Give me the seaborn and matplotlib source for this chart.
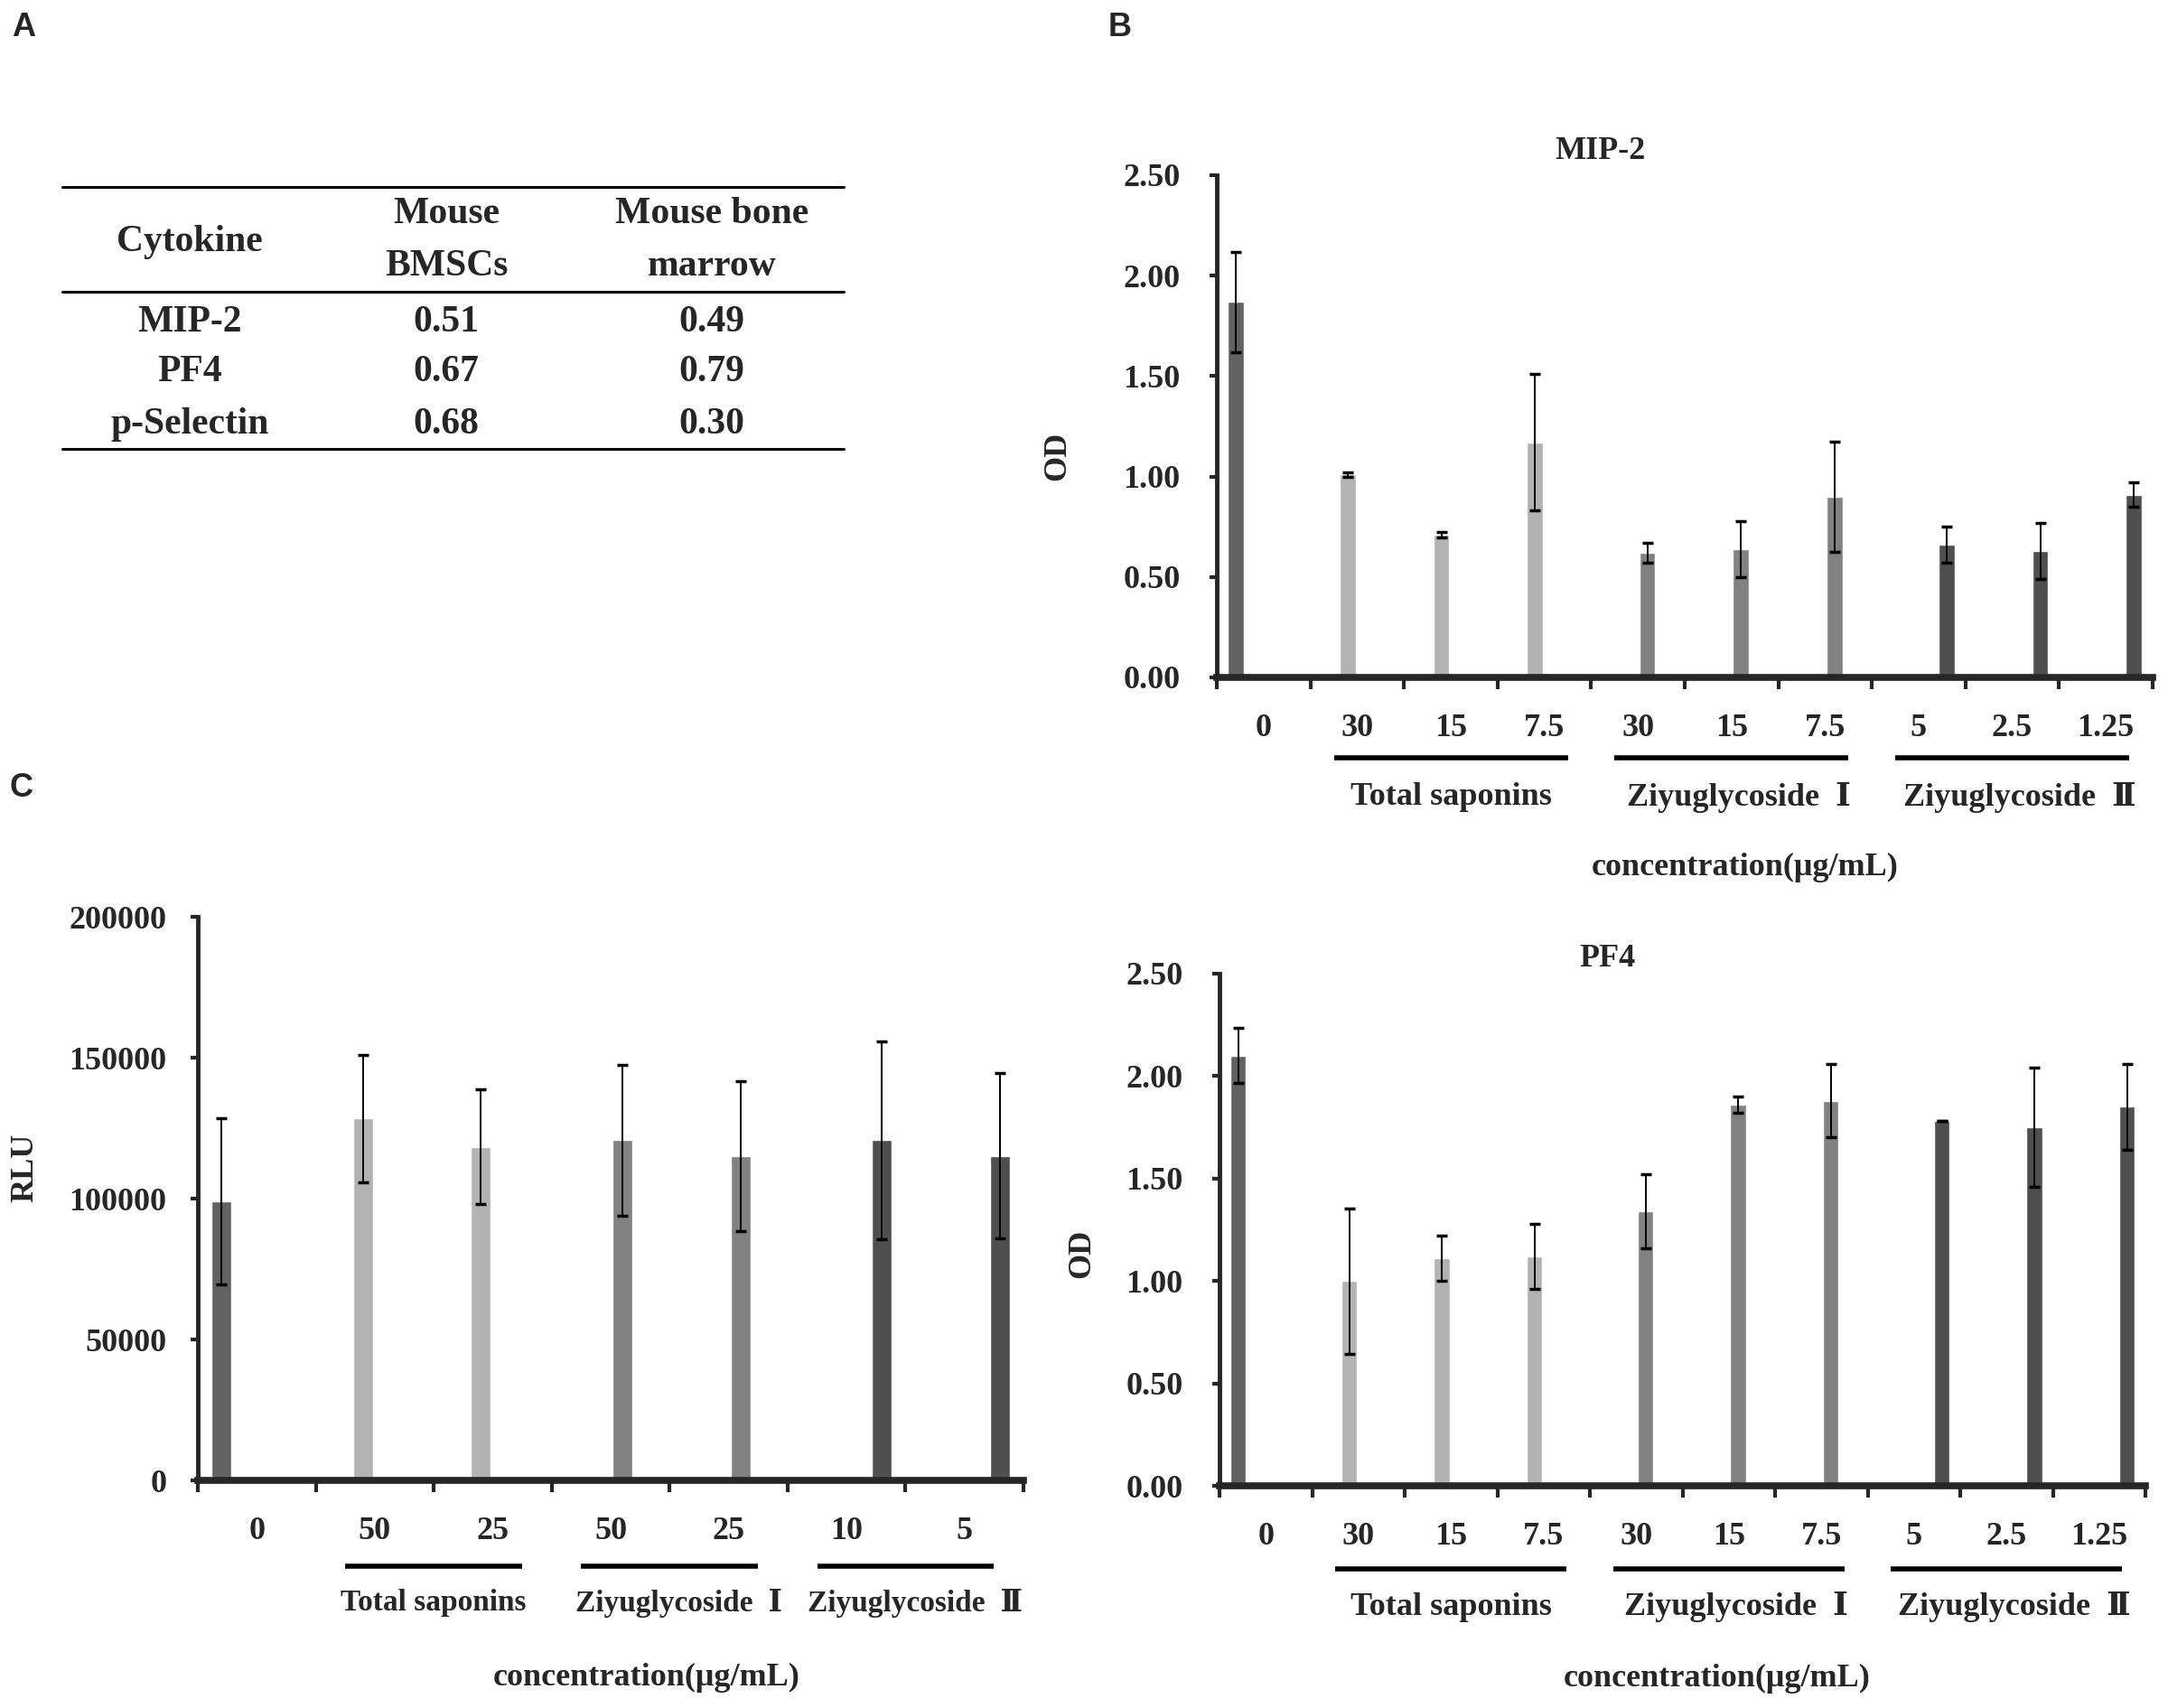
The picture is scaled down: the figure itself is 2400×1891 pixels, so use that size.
import numpy as np
import pandas as pd
import matplotlib
matplotlib.use('Agg')
import matplotlib.pyplot as plt
import matplotlib.transforms as mtransforms
from matplotlib.lines import Line2D
import seaborn as sns

# --- DATOS ---

# Tabla A
tabla_cytokine = ['MIP-2', 'PF4', 'p-Selectin']
tabla_bmsc = ['0.51', '0.67', '0.68']
tabla_marrow = ['0.49', '0.79', '0.30']

# Paneles B (OD)
od_labels = ['0', '30', '15', '7.5', '30', '15', '7.5', '5', '2.5', '1.25']
od_series = ['Control',
             'Total saponins', 'Total saponins', 'Total saponins',
             'Ziyuglycoside Ⅰ', 'Ziyuglycoside Ⅰ', 'Ziyuglycoside Ⅰ',
             'Ziyuglycoside Ⅱ', 'Ziyuglycoside Ⅱ', 'Ziyuglycoside Ⅱ']
mip2_mean = [1.87, 1.01, 0.71, 1.17, 0.62, 0.64, 0.90, 0.66, 0.63, 0.91]
mip2_sd = [0.25, 0.01, 0.015, 0.34, 0.05, 0.14, 0.275, 0.09, 0.14, 0.06]
pf4_mean = [2.10, 1.00, 1.11, 1.12, 1.34, 1.86, 1.88, 1.78, 1.75, 1.85]
pf4_sd = [0.135, 0.355, 0.11, 0.16, 0.18, 0.04, 0.18, 0.0, 0.29, 0.21]
od_yticks = [0.0, 0.5, 1.0, 1.5, 2.0, 2.5]

# Panel C (RLU)
rlu_labels = ['0', '50', '25', '50', '25', '10', '5']
rlu_series = ['Control', 'Total saponins', 'Total saponins',
              'Ziyuglycoside Ⅰ', 'Ziyuglycoside Ⅰ',
              'Ziyuglycoside Ⅱ', 'Ziyuglycoside Ⅱ']
rlu_mean = [99000, 128400, 118400, 120700, 115200, 120700, 115200]
rlu_sd = [29500, 22600, 20400, 26700, 26600, 35200, 29200]
rlu_yticks = [0, 50000, 100000, 150000, 200000]

HUE_ORDER = ['Control', 'Total saponins', 'Ziyuglycoside Ⅰ', 'Ziyuglycoside Ⅱ']
PALETA = {'Control': '#626262', 'Total saponins': '#b3b3b3',
          'Ziyuglycoside Ⅰ': '#818181', 'Ziyuglycoside Ⅱ': '#4f4f4f'}

W, H = 2400, 1891
FS = 26

sns.set_style('ticks')
plt.rcParams['font.family'] = ['Liberation Serif', 'DejaVu Serif', 'Noto Sans CJK SC']
plt.rcParams['font.weight'] = 'bold'

fig = plt.figure(figsize=(W / 100, H / 100), dpi=100)


def px(x, y):
    return x / W, 1 - y / H


def caja(left, top, right, bottom):
    return [left / W, 1 - bottom / H, (right - left) / W, (bottom - top) / H]


def dibujar_panel(ax, labels, series, means, sds, yticks, fmt, ypad, y_under, y_grupo, fs_grupo):
    n = len(labels)
    df = pd.DataFrame({'key': [f'k{i}' for i in range(n)], 'serie': series, 'valor': means})
    sns.barplot(data=df, x='key', y='valor', hue='serie', hue_order=HUE_ORDER,
                palette=PALETA, dodge=True, width=0.8, gap=0.15, saturation=1,
                errorbar=None, legend=False, ax=ax)
    # barras de error
    for bar in ax.patches:
        h = bar.get_height()
        if bar.get_width() == 0 or np.isnan(h) or h == 0:
            continue
        xc = bar.get_x() + bar.get_width() / 2
        i = int(round(xc))
        ax.errorbar(xc, means[i], yerr=sds[i], fmt='none', ecolor='black',
                    elinewidth=1.4, capsize=4.5, capthick=2.5, zorder=3)

    ax.set_xlim(-0.5, n - 0.5)
    ax.set_ylim(yticks[0], yticks[-1])
    ax.set_xticks(np.arange(n + 1) - 0.5)
    ax.set_xticklabels([])
    ax.set_xticks(np.arange(n), minor=True)
    ax.set_xticklabels(labels, minor=True)
    ax.tick_params(axis='x', which='major', length=9, width=3, direction='out')
    ax.tick_params(axis='x', which='minor', length=0, pad=29, labelsize=FS)
    ax.set_yticks(yticks)
    ax.set_yticklabels([fmt.format(v) for v in yticks])
    ax.tick_params(axis='y', length=6, width=3, pad=ypad, labelsize=FS)
    sns.despine(ax=ax)
    ax.spines['left'].set_linewidth(3.5)
    ax.spines['bottom'].set_linewidth(5.5)
    ax.set_xlabel('')
    ax.set_ylabel('')

    # subrayado y nombre de cada grupo
    trans = mtransforms.blended_transform_factory(ax.transData, fig.transFigure)
    grupos = []
    for i, s in enumerate(series):
        if s == 'Control':
            continue
        if grupos and grupos[-1][0] == s:
            grupos[-1][2] = i
        else:
            grupos.append([s, i, i])
    for nombre, i0, i1 in grupos:
        ax.plot([i0 - 0.25, i1 + 0.25], [1 - y_under / H] * 2, transform=trans,
                color='black', lw=4, clip_on=False, solid_capstyle='butt')
        romano = 'Ziyuglycoside' in nombre
        texto = nombre.replace(' Ⅰ', '  Ⅰ').replace(' Ⅱ', '  Ⅱ')
        ax.text((i0 + i1) / 2 + (0.08 if romano else 0), 1 - y_grupo / H, texto,
                transform=trans, ha='center', va='center', fontsize=fs_grupo)


# --- PANEL A: tabla ---
for y in [207, 323, 497]:
    fig.add_artist(Line2D([69 / W, 934 / W], [1 - y / H] * 2, color='black', lw=2.2))
fig.text(*px(210, 268), 'Cytokine', ha='center', va='center', fontsize=30)
fig.text(*px(494, 237), 'Mouse', ha='center', va='center', fontsize=30)
fig.text(*px(494, 295), 'BMSCs', ha='center', va='center', fontsize=30)
fig.text(*px(788, 237), 'Mouse bone', ha='center', va='center', fontsize=30)
fig.text(*px(788, 295), 'marrow', ha='center', va='center', fontsize=30)
for yrow, c, b, m in zip([357, 412, 470], tabla_cytokine, tabla_bmsc, tabla_marrow):
    fig.text(*px(210, yrow), c, ha='center', va='center', fontsize=30)
    fig.text(*px(494, yrow), b, ha='center', va='center', fontsize=30)
    fig.text(*px(788, yrow), m, ha='center', va='center', fontsize=30)

# --- PANEL B: MIP-2 ---
ax1 = fig.add_axes(caja(1347, 194, 2383, 750))
dibujar_panel(ax1, od_labels, od_series, mip2_mean, mip2_sd, od_yticks, '{:.2f}', 23, 839, 883, FS)
fig.text(*px(1771, 168), 'MIP-2', ha='center', va='center', fontsize=FS)
fig.text(*px(1171, 505), 'OD', ha='center', va='center', rotation=90, fontsize=FS)
fig.text(*px(1932, 960), 'concentration(μg/mL)', ha='center', va='center', fontsize=FS)

# --- PANEL B: PF4 ---
ax2 = fig.add_axes(caja(1350, 1078, 2375, 1645))
dibujar_panel(ax2, od_labels, od_series, pf4_mean, pf4_sd, od_yticks, '{:.2f}', 23, 1737, 1779, FS)
fig.text(*px(1779, 1062), 'PF4', ha='center', va='center', fontsize=FS)
fig.text(*px(1198, 1388), 'OD', ha='center', va='center', rotation=90, fontsize=FS)
fig.text(*px(1901, 1858), 'concentration(μg/mL)', ha='center', va='center', fontsize=FS)

# --- PANEL C: RLU ---
ax3 = fig.add_axes(caja(219, 1015, 1133, 1639))
dibujar_panel(ax3, rlu_labels, rlu_series, rlu_mean, rlu_sd, rlu_yticks, '{:.0f}', 19, 1734, 1775, 24)
fig.text(*px(28, 1293), 'RLU', ha='center', va='center', rotation=90, fontsize=FS)
fig.text(*px(716, 1857), 'concentration(μg/mL)', ha='center', va='center', fontsize=FS)

# letras de panel
for letra, (x, y) in zip('ABC', [(26, 31), (1240, 31), (23, 872)]):
    fig.text(*px(x, y), letra, ha='center', va='center', fontsize=26,
             family='Liberation Sans', weight='bold')

fig.savefig('out.png', dpi=100)
